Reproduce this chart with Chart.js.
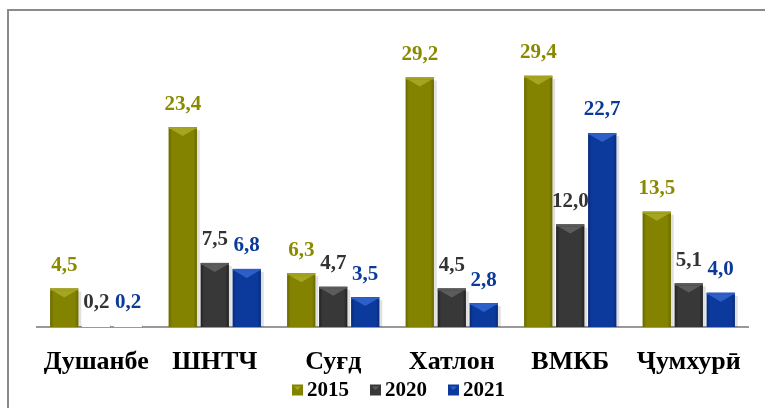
<!DOCTYPE html>
<html>
<head>
<meta charset="utf-8">
<script src="https://cdn.jsdelivr.net/npm/chart.js@4"></script>
<style>
  body { margin: 0; background: #fff; }
  #wrap { position: relative; width: 765px; height: 408px; }
  #frame { position: absolute; left: 7px; top: 9px; right: 0; bottom: 0;
           border-top: 2px solid #8a8a8a; border-left: 2px solid #8a8a8a; }
  canvas { position: absolute; left: 0; top: 0; }
</style>
</head>
<body>
<div id="wrap">
  <div id="frame"></div>
  <canvas id="myChart" width="765" height="408"></canvas>
</div>
<script>
const regions = ["Душанбе", "ШНТЧ", "Суғд", "Хатлон", "ВМКБ", "Ҷумхурӣ"];
const years = ["2015", "2020", "2021"];
const values2015 = [4.5, 23.4, 6.3, 29.2, 29.4, 13.5];
const values2020 = [0.2, 7.5, 4.7, 4.5, 12.0, 5.1];
const values2021 = [0.2, 6.8, 3.5, 2.8, 22.7, 4.0];

const barColors = ["#838300", "#383838", "#0c3a9c"];
const topColors = ["#a5a521", "#5c5c5c", "#2d5fc9"];
const edgeColors = ["#686800", "#222222", "#072a78"];
const labelColors = ["#8a8a00", "#333333", "#0a3a9a"];

const serif = "'Liberation Serif', 'Times New Roman', serif";

// bevelled bars + value labels drawn over the plain bars
const bevelBars = {
  id: "bevelBars",
  afterDatasetsDraw(chart) {
    const ctx = chart.ctx;
    chart.data.datasets.forEach((ds, i) => {
      const meta = chart.getDatasetMeta(i);
      meta.data.forEach((bar, j) => {
        const left = bar.x - bar.width / 2;
        const w = bar.width;
        const top = bar.y;
        const h = bar.base - bar.y;
        ctx.save();
        if (h > 3) {
          ctx.fillStyle = "rgba(0,0,0,0.12)";
          ctx.fillRect(left + w, top + 3, 3, h - 3);
          const g = ctx.createLinearGradient(left, 0, left + w, 0);
          g.addColorStop(0, edgeColors[i]);
          g.addColorStop(0.12, barColors[i]);
          g.addColorStop(0.88, barColors[i]);
          g.addColorStop(1, edgeColors[i]);
          ctx.fillStyle = g;
          ctx.fillRect(left, top, w, h);
          const d = Math.min(9, h);
          ctx.fillStyle = topColors[i];
          ctx.fillRect(left, top, w, 2);
          ctx.beginPath();
          ctx.moveTo(left + 2, top + 2);
          ctx.lineTo(left + w - 2, top + 2);
          ctx.lineTo(bar.x, top + d);
          ctx.closePath();
          ctx.fill();
        } else {
          ctx.clearRect(left, top - 1, w, h + 1);
        }
        const val = ds.data[j].toFixed(1).replace(".", ",");
        ctx.fillStyle = labelColors[i];
        ctx.font = "bold 21px " + serif;
        ctx.textAlign = "center";
        ctx.textBaseline = "middle";
        ctx.fillText(val, bar.x, top - 23);
        ctx.restore();
      });
    });
  }
};

// legend drawn by hand so the spacing matches the picture
const bottomLegend = {
  id: "bottomLegend",
  afterDraw(chart) {
    const ctx = chart.ctx;
    const box = 11, gap = 4, itemGap = 21;
    ctx.save();
    ctx.font = "bold 21px " + serif;
    ctx.textBaseline = "middle";
    ctx.textAlign = "left";
    const widths = chart.data.datasets.map(ds => box + gap + ctx.measureText(ds.label).width);
    const total = widths.reduce((a, b) => a + b, 0) + itemGap * (widths.length - 1);
    let x = (chart.chartArea.left + chart.chartArea.right) / 2 + 6 - total / 2;
    const y = 390;
    chart.data.datasets.forEach((ds, i) => {
      ctx.fillStyle = barColors[i];
      ctx.fillRect(x, y - box / 2, box, box);
      ctx.fillStyle = topColors[i];
      ctx.beginPath();
      ctx.moveTo(x + 2, y - box / 2 + 2);
      ctx.lineTo(x + box - 2, y - box / 2 + 2);
      ctx.lineTo(x + box / 2, y);
      ctx.closePath();
      ctx.fill();
      ctx.fillStyle = "#000";
      ctx.fillText(ds.label, x + box + gap, y + 1);
      x += widths[i] + itemGap;
    });
    ctx.restore();
  }
};

const ctx = document.getElementById("myChart").getContext("2d");
const myChart = new Chart(ctx, {
  type: "bar",
  data: {
    labels: regions,
    datasets: [
      { label: years[0], data: values2015, backgroundColor: barColors[0] },
      { label: years[1], data: values2020, backgroundColor: barColors[1] },
      { label: years[2], data: values2021, backgroundColor: barColors[2] },
    ],
  },
  options: {
    responsive: false,
    animation: false,
    layout: { padding: { left: 37, right: 17, top: 28, bottom: 34 } },
    datasets: {
      bar: { categoryPercentage: 0.81, barPercentage: 0.875, borderWidth: 0 },
    },
    scales: {
      x: {
        grid: { display: false, drawTicks: false },
        border: { display: true, color: "#999999", width: 2 },
        ticks: {
          color: "#000",
          padding: 22,
          font: { family: serif, size: 26, weight: "bold", lineHeight: 1 },
        },
        afterFit(scale) {
          scale.height -= 23;
        },
      },
      y: { display: false, min: 0, max: 35 },
    },
    plugins: {
      legend: { display: false },
      tooltip: { enabled: false },
    },
  },
  plugins: [bevelBars, bottomLegend],
});
</script>
</body>
</html>
